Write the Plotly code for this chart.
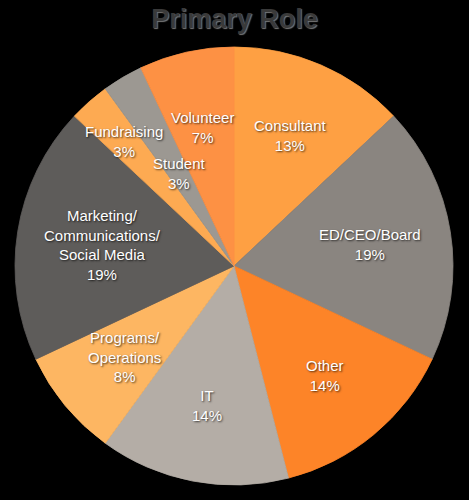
import math
import plotly.graph_objects as go

# Data, clockwise from 12 o'clock
roles = [
    "Consultant", "ED/CEO/Board", "Other", "IT", "Programs/<br>Operations",
    "Marketing/<br>Communications/<br>Social Media", "Fundraising", "Student",
    "Volunteer",
]
shares = [13, 19, 14, 14, 8, 19, 3, 3, 7]
colors = [
    "#FEA043", "#8A8580", "#FD8428", "#B4ADA6", "#FDB662",
    "#5E5C5A", "#FDAA52", "#9C9892", "#FD9144",
]

W, H = 469, 500
CX, CY, R = 234, 266, 219   # pie centre / radius in pixels

# label distance from centre as a fraction of radius (default 0.65)
label_r = {"Fundraising": 0.76, "Student": 0.49, "ED/CEO/Board": 0.63,
           "Marketing/<br>Communications/<br>Social Media": 0.61}

fig = go.Figure(go.Pie(
    labels=roles,
    values=shares,
    # outline each slice in its own colour to hide the anti-aliasing seams
    marker=dict(colors=colors, line=dict(color=colors, width=0.8)),
    sort=False,
    direction="clockwise",
    rotation=0,
    textinfo="none",
    hoverinfo="label+percent",
    domain=dict(x=[(CX - R) / W, (CX + R) / W],
                y=[(H - CY - R) / H, (H - CY + R) / H]),
))

# labels at the middle of each slice
annotations = []
total = sum(shares)
cum = 0
for role, v in zip(roles, shares):
    mid = (cum + v / 2) / total * 2 * math.pi
    cum += v
    rf = label_r.get(role, 0.65)
    px = CX + rf * R * math.sin(mid)
    py = CY - rf * R * math.cos(mid)
    annotations.append(dict(
        x=px / W, y=1 - py / H, xref="paper", yref="paper",
        text=f"{role}<br>{round(v / total * 100)}%",
        showarrow=False, xanchor="center", yanchor="middle",
        font=dict(family="Liberation Sans, Arial", size=15, color="white",
                  shadow="1px 1px 2px rgba(0,0,0,0.7)"),
    ))

fig.update_layout(
    title=dict(
        text="<b>Primary Role</b>",
        x=0.5, xanchor="center", y=1 - 19 / H, yanchor="middle",
        font=dict(family="Liberation Sans, Arial", size=27, color="#3A3A3A",
                  shadow="1px 1px 1px #777"),
    ),
    annotations=annotations,
    showlegend=False,
    paper_bgcolor="black",
    plot_bgcolor="black",
    width=W,
    height=H,
    margin=dict(l=0, r=0, t=0, b=0),
)

# drop the browser's default page margin so the chart fills the window
fig.write_html(
    "out.html",
    config={"displayModeBar": False},
    post_script="document.body.style.margin='0';"
                "document.body.style.background='black';",
)
